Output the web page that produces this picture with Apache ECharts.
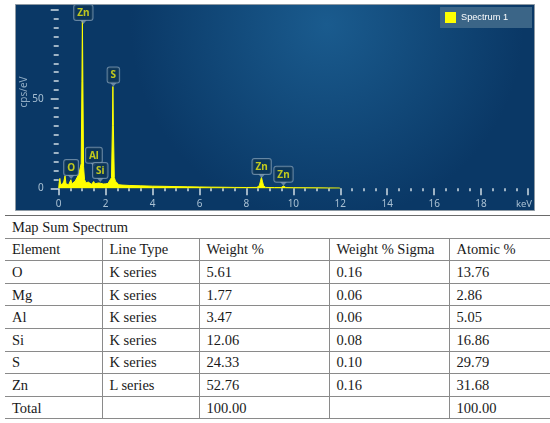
<!DOCTYPE html>
<html>
<head>
<meta charset="utf-8">
<script src="https://cdn.jsdelivr.net/npm/echarts@6/dist/echarts.min.js"></script>
<style>
  html, body { margin: 0; padding: 0; background: #ffffff; }
  #wrap { position: relative; width: 550px; height: 423px; overflow: hidden; }
  #chart { position: absolute; left: 0; top: 0; width: 550px; height: 214px; }
  table { position: absolute; left: 5px; top: 215px; width: 545px; border-collapse: collapse;
          font-family: "Liberation Serif", "DejaVu Serif", serif; font-size: 14.5px; color: #1a1a1a; table-layout: fixed; }
  td { border-top: 1px solid #8a8a8a; border-bottom: 1px solid #8a8a8a; height: 22.6px; padding: 0 0 0 7px;
       line-height: 20px; white-space: nowrap; vertical-align: middle; box-sizing: border-box; }
  td + td { border-left: 1px solid #8a8a8a; }
  tr.first td { border-top: 1px solid #6a6a6a; }
</style>
</head>
<body>
<div id="wrap">
  <div id="chart"></div>
  <table id="tbl"></table>
</div>
<script>
// ---- spectrum (keV, cps/eV) ----
const spectrumKeV = [0.00,0.02,0.05,0.08,0.12,0.17,0.22,0.27,0.31,0.36,0.42,0.48,0.52,0.56,0.62,0.70,0.78,0.86,0.92,0.96,0.99,1.01,1.03,1.06,1.10,1.16,1.22,1.26,1.31,1.40,1.45,1.49,1.54,1.62,1.70,1.74,1.79,1.90,2.00,2.10,2.18,2.25,2.29,2.31,2.33,2.37,2.42,2.46,2.50,2.56,2.70,3.00,3.50,4.00,4.50,5.00,5.50,6.00,6.50,7.00,7.50,8.00,8.45,8.55,8.60,8.64,8.68,8.73,8.82,9.20,9.48,9.54,9.58,9.62,9.68,10.00,10.50,11.00,11.50,11.95,12.00];
const spectrumCps = [0,3,5.5,2,1.5,2.5,4,7,2.5,1.5,2,3,4.8,2.5,2.5,4,6,8,9,14,60,94,60,12,5,3,2.5,3.5,2.5,2.2,3,3.8,2.5,2.2,3,4,2.8,2.4,2.5,2.7,3.5,6,35,57,35,6,4,4.8,3,2,1.8,1.6,1.4,1.2,1.1,0.95,0.85,0.75,0.65,0.6,0.5,0.45,0.5,1.5,4,6.2,4,1.5,0.5,0.4,0.4,0.9,1.3,0.9,0.4,0.35,0.3,0.25,0.2,0.15,0];

// ---- element annotations ----
const peakNames  = ['O', 'Al', 'Si', 'Zn', 'S', 'Zn', 'Zn'];
const peakKeV    = [0.53, 1.50, 1.77, 1.05, 2.33, 8.65, 9.58];
const peakAnchor = [5.2, 12.0, 3.5, 92.0, 57.0, 5.8, 1.4];

// ---- axes ----
const xTickLabels = ['0','2','4','6','8','10','12','14','16','18','keV'];
const yTickLabels = ['0','50',''];

// ---- table ----
const tableTitle = 'Map Sum Spectrum';
const tableHeader = ['Element', 'Line Type', 'Weight %', 'Weight % Sigma', 'Atomic %'];
const elements = ['O', 'Mg', 'Al', 'Si', 'S', 'Zn', 'Total'];
const lineTypes = ['K series', 'K series', 'K series', 'K series', 'K series', 'L series', ''];
const weightPct = ['5.61', '1.77', '3.47', '12.06', '24.33', '52.76', '100.00'];
const weightSigma = ['0.16', '0.06', '0.06', '0.08', '0.10', '0.16', ''];
const atomicPct = ['13.76', '2.86', '5.05', '16.86', '29.79', '31.68', '100.00'];

// build table
(function(){
  const t = document.getElementById('tbl');
  const widths = [97, 97, 130, 120, 101];
  let html = '<colgroup>' + widths.map(w => '<col style="width:' + w + 'px">').join('') + '</colgroup>';
  html += '<tr class="first"><td colspan="5" style="border-left:none">' + tableTitle + '</td></tr>';
  html += '<tr>' + tableHeader.map(h => '<td>' + h + '</td>').join('') + '</tr>';
  for (let i = 0; i < elements.length; i++) {
    html += '<tr><td>' + elements[i] + '</td><td>' + lineTypes[i] + '</td><td>' + weightPct[i] +
            '</td><td>' + weightSigma[i] + '</td><td>' + atomicPct[i] + '</td></tr>';
  }
  t.innerHTML = html;
})();

const chart = echarts.init(document.getElementById('chart'), null, { renderer: 'canvas' });
const specData = spectrumKeV.map((x, i) => [x, spectrumCps[i]]);
const peakData = peakKeV.map((x, i) => ({ value: [x, peakAnchor[i]], name: peakNames[i] }));

chart.setOption({
  animation: false,
  graphic: [{
    type: 'rect', z: -10, silent: true,
    shape: { x: 15.5, y: 4.5, width: 519, height: 206 },
    style: {
      fill: new echarts.graphic.RadialGradient(0.6, 0.1, 0.95, [
        { offset: 0, color: '#1a5b8e' },
        { offset: 1, color: '#0a3866' }
      ]),
      stroke: '#8d99a3', lineWidth: 1
    }
  }],
  grid: { left: 58.7, right: 22, top: 9.7, bottom: 25.7 },
  legend: {
    data: ['Spectrum 1'],
    right: 18, top: 7,
    backgroundColor: '#3b6587',
    padding: [5, 24, 5, 5],
    icon: 'rect', itemWidth: 11, itemHeight: 11, itemGap: 5,
    textStyle: { color: '#ffffff', fontSize: 9.2, fontFamily: 'Liberation Sans' }
  },
  xAxis: {
    type: 'value', min: 0, max: 20, interval: 2, offset: 2,
    axisLine: { show: false },
    axisTick: { show: true, length: 7, lineStyle: { color: '#d0dbe4', width: 1.5 } },
    minorTick: { show: true, splitNumber: 4, length: 3, lineStyle: { color: '#d0dbe4', width: 1.5 } },
    splitLine: { show: false },
    axisLabel: { color: '#a9c0d3', fontSize: 10, margin: 9, fontFamily: 'Noto Sans',
      formatter: v => {
        const s = xTickLabels[Math.round(v / 2)];
        return s === 'keV' ? '{k|' + s + '}' : s;
      },
      rich: { k: { color: '#a9c0d3', fontSize: 9.5, fontFamily: 'Noto Sans', padding: [0, 8, 0, 0] } }
    }
  },
  yAxis: {
    type: 'value', min: 0, max: 100, interval: 50, offset: 6,
    name: 'cps/eV', nameLocation: 'middle', nameGap: 24, nameMoveOverlap: false,
    nameTextStyle: { color: '#8fabc3', fontSize: 10, fontFamily: 'Noto Sans', padding: [0, 0, 0, 14] },
    axisLine: { show: false },
    axisTick: { show: true, length: 8, lineStyle: { color: '#d0dbe4', width: 1.5 } },
    minorTick: { show: true, splitNumber: 10, length: 5, lineStyle: { color: '#d0dbe4', width: 1.5 } },
    splitLine: { show: false },
    axisLabel: { color: '#a9c0d3', fontSize: 10, margin: 9, fontFamily: 'Noto Sans',
      formatter: v => yTickLabels[Math.round(v / 50)] }
  },
  series: [{
    name: 'Spectrum 1', type: 'line', data: specData,
    symbol: 'none', itemStyle: { color: '#ffff00' },
    lineStyle: { color: '#ffff00', width: 1 },
    areaStyle: { color: '#ffff00', opacity: 1 },
    z: 2
  }, {
    name: 'labels', type: 'scatter', data: peakData,
    symbol: 'triangle', symbolRotate: 180, symbolSize: [7, 4], symbolOffset: [0, '-50%'],
    itemStyle: { color: '#7d98b0' },
    label: {
      show: true, position: 'top', distance: 0,
      formatter: p => p.name,
      backgroundColor: '#0c3456', borderColor: '#7d98b0', borderWidth: 1, borderRadius: 2,
      padding: [3, 3, 2, 3], color: '#eeee10', fontSize: 10, fontWeight: 'bold', fontFamily: 'Noto Sans'
    },
    z: 5
  }]
});
</script>
</body>
</html>
